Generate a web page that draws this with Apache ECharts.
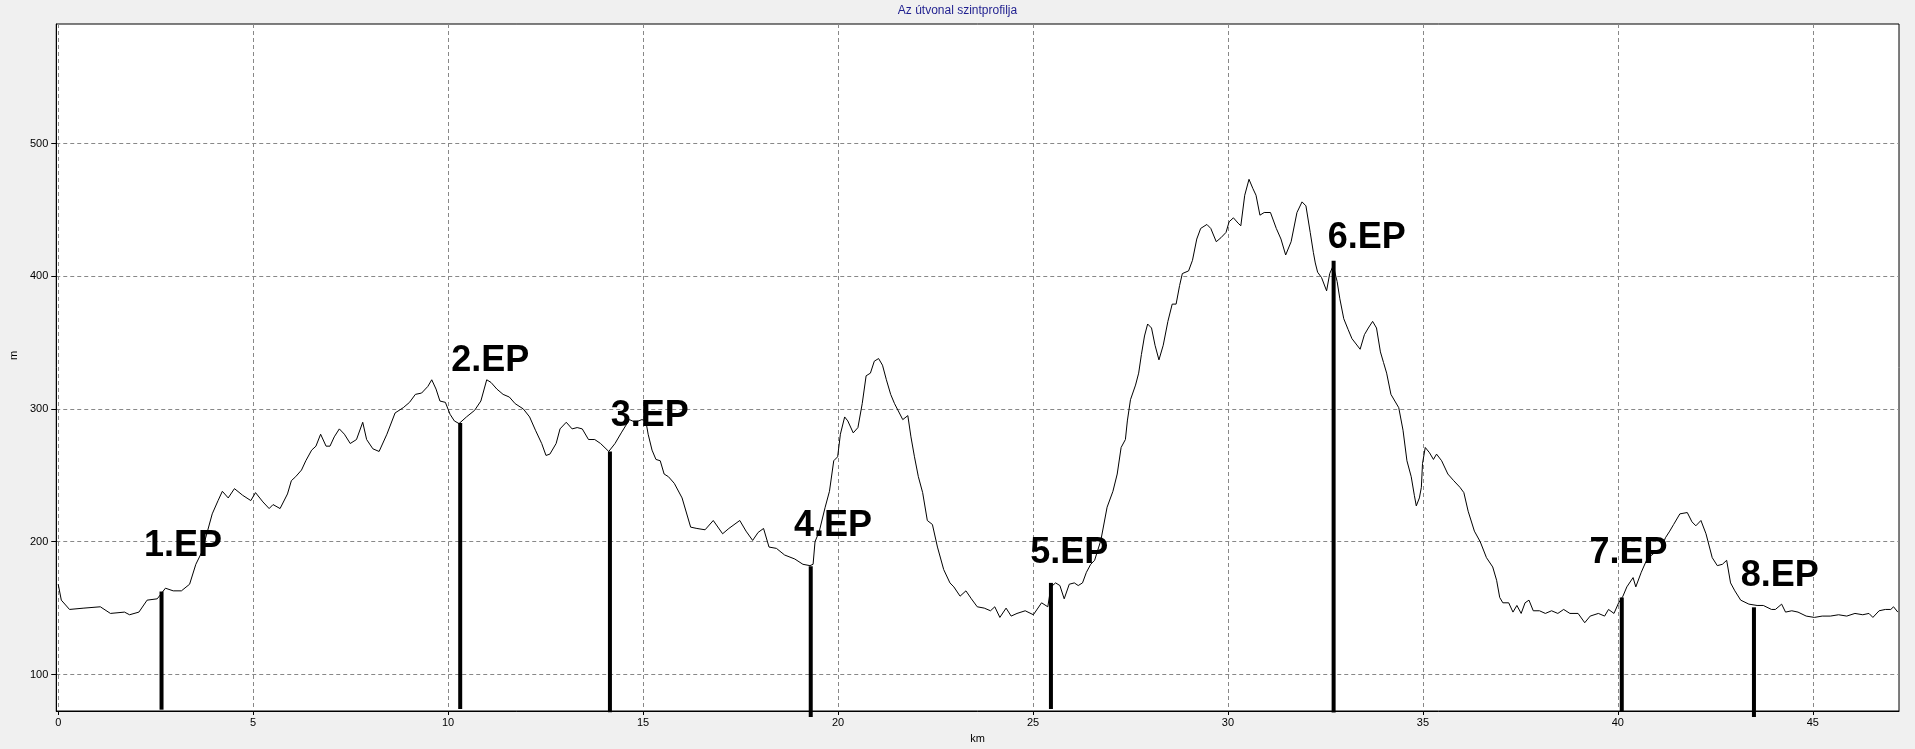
<!DOCTYPE html>
<html><head><meta charset="utf-8">
<script src="https://cdn.jsdelivr.net/npm/echarts@6/dist/echarts.min.js"></script>
<style>html,body{margin:0;padding:0;background:#f0f0f0;}#c{width:1915px;height:749px;}</style>
</head><body><div id="c"></div>
<script>
// Elevation profile: distance (km) and elevation (m)
const distKm = [0,0.08,0.29,0.66,1.08,1.34,1.70,1.83,2.07,2.28,2.54,2.75,2.95,3.16,3.37,3.53,3.68,3.95,4.10,4.21,4.36,4.52,4.73,4.94,5.06,5.25,5.41,5.51,5.69,5.88,5.98,6.09,6.24,6.35,6.50,6.61,6.73,6.87,6.97,7.08,7.21,7.34,7.49,7.65,7.81,7.91,8.07,8.23,8.43,8.64,8.85,9.01,9.16,9.32,9.48,9.58,9.69,9.79,9.93,10.05,10.16,10.28,10.47,10.68,10.84,10.99,11.10,11.25,11.41,11.57,11.72,11.93,12.09,12.24,12.40,12.51,12.61,12.77,12.87,13.03,13.18,13.31,13.44,13.60,13.76,13.91,14.12,14.28,14.44,14.65,14.80,14.97,15.07,15.13,15.23,15.33,15.44,15.54,15.65,15.80,16.00,16.22,16.38,16.59,16.80,17.04,17.20,17.48,17.64,17.81,17.95,18.09,18.23,18.42,18.63,18.89,19.10,19.28,19.36,19.41,19.52,19.67,19.78,19.89,19.99,20.06,20.17,20.25,20.39,20.51,20.62,20.72,20.83,20.93,21.04,21.14,21.24,21.35,21.45,21.66,21.79,21.87,21.96,22.06,22.17,22.29,22.42,22.55,22.71,22.87,22.97,23.13,23.28,23.42,23.57,23.75,23.91,24.02,24.15,24.31,24.44,24.59,24.80,25.01,25.22,25.38,25.46,25.58,25.69,25.80,25.93,26.06,26.16,26.27,26.37,26.48,26.58,26.74,26.90,27.05,27.16,27.26,27.37,27.42,27.50,27.63,27.71,27.78,27.86,27.94,28.04,28.13,28.23,28.34,28.46,28.57,28.67,28.76,28.83,28.99,29.09,29.20,29.30,29.46,29.56,29.70,29.82,29.95,30.03,30.14,30.26,30.33,30.43,30.54,30.64,30.72,30.82,30.93,31.09,31.24,31.36,31.48,31.62,31.77,31.90,32.00,32.11,32.19,32.24,32.30,32.40,32.53,32.61,32.70,32.80,32.87,32.97,33.08,33.18,33.39,33.50,33.60,33.71,33.81,33.91,33.99,34.07,34.18,34.28,34.38,34.49,34.59,34.70,34.78,34.83,34.91,34.96,34.99,35.06,35.17,35.27,35.35,35.48,35.64,35.79,35.95,36.05,36.16,36.32,36.47,36.63,36.79,36.89,36.97,37.05,37.20,37.31,37.41,37.52,37.62,37.72,37.83,37.99,38.14,38.30,38.46,38.61,38.77,38.98,39.15,39.29,39.50,39.66,39.76,39.90,40.02,40.13,40.23,40.39,40.46,40.60,40.75,40.91,41.07,41.22,41.33,41.43,41.59,41.78,41.90,42.00,42.13,42.26,42.42,42.55,42.68,42.79,42.89,43.00,43.15,43.36,43.57,43.73,43.94,44.04,44.20,44.30,44.46,44.62,44.83,45.04,45.24,45.45,45.66,45.87,46.08,46.28,46.44,46.54,46.70,46.86,47.00,47.07,47.18];
const elevM = [168,156,149,150,151,146,147,145,147,156,157,165,163,163,168,183,192,221,231,238,233,240,235,231,237,230,225,228,225,236,246,249,254,261,269,272,281,272,272,279,285,281,274,277,290,277,270,268,281,297,301,305,311,312,317,322,315,306,305,296,291,289,294,299,306,322,320,315,311,309,304,300,294,284,274,265,266,274,285,290,285,286,285,277,277,274,268,274,282,292,290,292,291,281,269,262,261,251,249,244,233,211,210,209,216,206,210,216,208,201,207,210,196,195,190,187,183,182,183,200,208,226,238,261,264,281,294,291,282,286,304,325,327,336,338,333,322,311,304,292,295,279,264,249,237,216,213,196,179,169,166,159,163,157,151,150,148,151,143,150,144,146,148,145,154,151,166,169,167,157,168,169,167,169,177,183,186,201,226,238,251,271,277,291,307,318,327,341,355,364,361,348,337,348,366,379,379,393,402,404,412,428,436,439,436,426,429,433,441,444,440,438,461,473,466,461,446,448,448,436,428,416,426,448,456,453,433,418,410,403,399,389,402,408,396,383,368,360,353,345,356,361,366,361,343,335,327,311,306,301,284,261,249,235,227,233,241,259,271,267,262,266,261,251,246,241,237,223,208,200,188,181,171,158,154,154,147,152,146,154,156,148,148,146,148,146,149,146,146,139,144,146,144,149,146,154,159,166,173,166,177,187,191,192,203,208,213,221,222,215,212,216,206,188,182,183,186,169,163,156,153,152,152,149,149,153,147,148,147,144,143,144,144,145,144,146,145,146,143,148,149,149,151,147];

// Checkpoints ("EP") : position, bar bottom/top, label anchor
const epNames = ['1.EP','2.EP','3.EP','4.EP','5.EP','6.EP','7.EP','8.EP'];
const epKm = [2.65,10.31,14.15,19.30,25.46,32.71,40.10,43.49];
const epBottom = [73.5,74,71.5,68,74,71.4,72.4,68];
const epTop = [162.5,289.5,268,181.5,169,411.7,158,150.6];
const epLabelKm = [2.2,10.08,14.17,18.87,24.93,32.56,39.27,43.15];
const epLabelElev = [197,336,295,211.5,191.3,428.8,191.8,174.2];

const xTicks = [0,5,10,15,20,25,30,35,40,45];
const yTicks = [100,200,300,400,500];

const profile = distKm.map((d,i)=>[d, elevM[i]]);
const epBars = epKm.map((k,i)=>[k, epBottom[i], epTop[i]]);
const epLabels = epLabelKm.map((k,i)=>[k, epLabelElev[i], epNames[i]]);

const chart = echarts.init(document.getElementById('c'), null, {renderer:'canvas'});
const lblFont = '"Liberation Sans", Arial, sans-serif';
chart.setOption({
  animation:false,
  backgroundColor:'#f0f0f0',
  title:{text:'Az útvonal szintprofilja', left:'center', top:5, padding:0,
    textStyle:{fontSize:12, fontWeight:'normal', color:'#1f1f8f', fontFamily:lblFont}},
  grid:{left:54, right:16, top:24, bottom:35, show:true, backgroundColor:'#ffffff', borderColor:'#000', borderWidth:1},
  xAxis:{type:'value', min:-0.05, max:47.21,
    name:'km', nameLocation:'middle', nameGap:22,
    nameTextStyle:{fontSize:11, color:'#000', fontFamily:lblFont},
    axisLine:{show:true, onZero:false, lineStyle:{color:'#000', width:1}},
    axisTick:{show:true, length:4, customValues:xTicks, lineStyle:{color:'#000'}},
    axisLabel:{customValues:xTicks, fontSize:11, color:'#000', margin:6, fontFamily:lblFont},
    splitLine:{show:true, lineStyle:{color:'#888', type:[4,3], width:1}}
  },
  yAxis:{type:'value', min:72.5, max:590,
    name:'m', nameLocation:'middle', nameGap:28, nameRotate:90,
    nameTextStyle:{fontSize:11, color:'#000', fontFamily:lblFont, padding:[0,0,0,24]},
    axisLine:{show:true, onZero:false, lineStyle:{color:'#000', width:1}},
    axisTick:{show:true, length:5, customValues:yTicks, lineStyle:{color:'#000'}},
    axisLabel:{customValues:yTicks, fontSize:11, color:'#000', margin:8, fontFamily:lblFont},
    splitLine:{show:true, lineStyle:{color:'#888', type:[4,3], width:1}}
  },
  series:[
    {type:'line', data:profile, symbol:'none', smooth:false, lineStyle:{color:'#000', width:1}, z:3},
    {type:'custom', data:epBars, clip:false, z:4,
      renderItem:(params, api)=>{
        const p0 = api.coord([api.value(0), api.value(1)]);
        const p1 = api.coord([api.value(0), api.value(2)]);
        return {type:'line', shape:{x1:p0[0], y1:p0[1], x2:p1[0], y2:p1[1]}, style:{stroke:'#000', lineWidth:4}};
      }},
    {type:'custom', data:epLabels, clip:false, z:5,
      renderItem:(params, api)=>{
        const p = api.coord([api.value(0), api.value(1)]);
        return {type:'text', x:p[0], y:p[1], style:{text:epNames[params.dataIndex], fill:'#000',
          fontSize:36, fontWeight:'bold', fontFamily:lblFont, align:'left', verticalAlign:'middle'}};
      }}
  ]
});
</script></body></html>
